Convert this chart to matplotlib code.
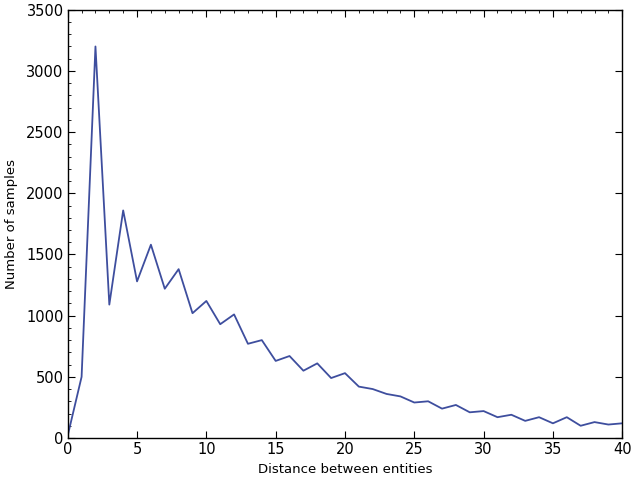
import matplotlib
matplotlib.use('Agg')
import matplotlib.pyplot as plt
from matplotlib.ticker import MultipleLocator

# distance between entities vs number of samples
distance = list(range(0, 41))
samples = [20, 500, 3200, 1090, 1860, 1280, 1580, 1220, 1380, 1020,
           1120, 930, 1010, 770, 800, 630, 670, 550, 610, 490,
           530, 420, 400, 360, 340, 290, 300, 240, 270, 210,
           220, 170, 190, 140, 170, 120, 170, 100, 130, 110,
           120]

x_ticks = [0, 5, 10, 15, 20, 25, 30, 35, 40]
y_ticks = [0, 500, 1000, 1500, 2000, 2500, 3000, 3500]

fig = plt.figure(figsize=(6.33, 4.79), dpi=100)
ax = fig.add_axes([0.107, 0.0856, 0.876, 0.894])

ax.plot(distance, samples, color='#3e4e9e', linewidth=1.3)

ax.set_xlim(0, 40)
ax.set_ylim(0, 3500)
ax.set_xticks(x_ticks)
ax.set_yticks(y_ticks)
ax.xaxis.set_minor_locator(MultipleLocator(1))
ax.yaxis.set_minor_locator(MultipleLocator(100))

ax.tick_params(which='major', direction='in', length=5, width=0.8,
               top=True, right=True, labelsize=10.5, colors='black', pad=3)
ax.tick_params(which='minor', direction='in', length=2.5, width=0.6,
               top=True, bottom=False, left=True, right=False)
for s in ax.spines.values():
    s.set_linewidth(1.0)

ax.set_xlabel('Distance between entities', fontsize=9.5, labelpad=4)
ax.set_ylabel('Number of samples', fontsize=9.5, labelpad=6)

fig.savefig('out.png', dpi=100, facecolor='white')
